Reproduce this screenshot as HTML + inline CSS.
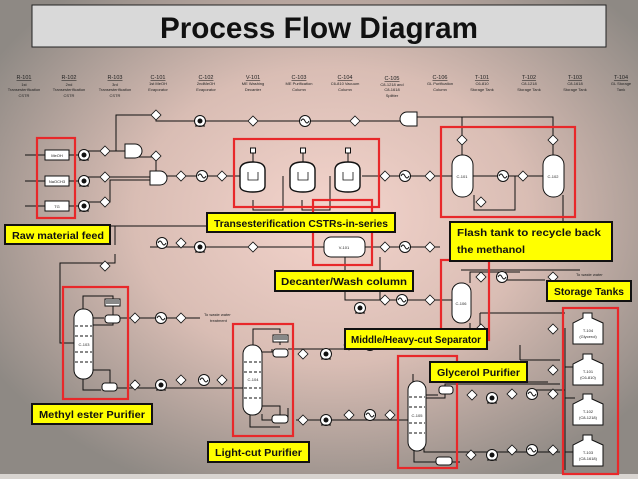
<!DOCTYPE html>
<html><head><meta charset="utf-8"><style>
html,body{margin:0;padding:0;width:638px;height:479px;overflow:hidden}
svg{display:block}
text{font-family:"Liberation Sans",sans-serif}
.s{font-size:4px;fill:#222}
.id{font-size:5.5px;fill:#222;text-decoration:underline}
.y{fill:#ffff00;stroke:#111;stroke-width:2}
.yt{font-size:10.5px;font-weight:bold;fill:#111}
.r{fill:none;stroke:#e8282a;stroke-width:2.2}
.l{fill:none;stroke:#111;stroke-width:1}
.v{fill:#fff;stroke:#111;stroke-width:1}
</style></head><body>
<svg width="638" height="479" viewBox="0 0 638 479" xmlns="http://www.w3.org/2000/svg">
<defs>
<radialGradient id="bg" cx="0.52" cy="0.45" r="0.62">
<stop offset="0" stop-color="#f4d4cc"/><stop offset="0.5" stop-color="#d9bdb4"/><stop offset="1" stop-color="#8e8984"/></radialGradient>
<g id="d"><path d="M0,-5 L5,0 L0,5 L-5,0Z" fill="#fff" stroke="#111" stroke-width="0.8"/></g>
<g id="p"><circle r="5.5" fill="#fff" stroke="#111" stroke-width="1"/><circle r="2.5" fill="#111"/><path d="M-5,5 L5,5" stroke="#111"/></g>
<g id="h"><circle r="5.5" fill="#fff" stroke="#111" stroke-width="1"/><path d="M-4,0 Q-2,-4 0,0 T4,0" fill="none" stroke="#111" stroke-width="0.9"/></g>
<g id="tk"><path d="M10,0 H19 V5 L30,10 V31 H0 V10 L10,5Z" fill="#fff" stroke="#111" stroke-width="1"/></g>
<g id="rx"><rect x="-1.5" y="-28" width="5" height="5" fill="#fff" stroke="#111"/><path d="M1,-23 V-8" stroke="#111"/><path d="M-12,-6 Q-12,-14 1,-14 Q13,-14 13,-6 V10 Q13,16 1,16 Q-12,16 -12,10Z" fill="#fff" stroke="#111" stroke-width="1.4"/><path d="M-4,-4 V4 H6 V-4" fill="none" stroke="#111" stroke-width="0.8"/></g>
</defs>
<rect width="638" height="479" fill="url(#bg)"/>
<rect x="0" y="474" width="638" height="5" fill="#d8d4d0"/>
<rect x="32" y="5" width="574" height="42" fill="#d9d9d9" stroke="#222" stroke-width="1"/>
<text x="319" y="38" text-anchor="middle" font-size="30" font-weight="bold" fill="#111" textLength="318" lengthAdjust="spacingAndGlyphs">Process Flow Diagram</text>

<g text-anchor="middle">
<text class="id" x="24" y="79">R-101</text><text class="s" x="24" y="86">1st</text><text class="s" x="24" y="91">Transesterification</text><text class="s" x="24" y="97">CSTR</text>
<text class="id" x="69" y="79">R-102</text><text class="s" x="69" y="86">2nd</text><text class="s" x="69" y="91">Transesterification</text><text class="s" x="69" y="97">CSTR</text>
<text class="id" x="115" y="79">R-103</text><text class="s" x="115" y="86">3rd</text><text class="s" x="115" y="91">Transesterification</text><text class="s" x="115" y="97">CSTR</text>
<text class="id" x="158" y="79">C-101</text><text class="s" x="158" y="85">1st MeOH</text><text class="s" x="158" y="91">Evaporator</text>
<text class="id" x="206" y="79">C-102</text><text class="s" x="206" y="85">2ndMeOH</text><text class="s" x="206" y="91">Evaporator</text>
<text class="id" x="253" y="79">V-101</text><text class="s" x="253" y="85">ME Washing</text><text class="s" x="253" y="91">Decanter</text>
<text class="id" x="299" y="79">C-103</text><text class="s" x="299" y="85">ME Purification</text><text class="s" x="299" y="91">Column</text>
<text class="id" x="345" y="79">C-104</text><text class="s" x="345" y="85">C6-810 Vacuum</text><text class="s" x="345" y="91">Column</text>
<text class="id" x="392" y="80">C-105</text><text class="s" x="392" y="86">C8-1218 and</text><text class="s" x="392" y="91">C8-1618</text><text class="s" x="392" y="97">Splitter</text>
<text class="id" x="440" y="79">C-106</text><text class="s" x="440" y="85">GL Purification</text><text class="s" x="440" y="91">Column</text>
<text class="id" x="482" y="79">T-101</text><text class="s" x="482" y="85">C6-810</text><text class="s" x="482" y="91">Storage Tank</text>
<text class="id" x="529" y="79">T-102</text><text class="s" x="529" y="85">C8-1218</text><text class="s" x="529" y="91">Storage Tank</text>
<text class="id" x="575" y="79">T-103</text><text class="s" x="575" y="85">C8-1618</text><text class="s" x="575" y="91">Storage Tank</text>
<text class="id" x="621" y="79">T-104</text><text class="s" x="621" y="85">GL Storage</text><text class="s" x="621" y="91">Tank</text>
</g>

<g class="l">
<path d="M25,155 H45 M69,155 H84 M84,151 H125 M116,151 V115 H156 V121 H405"/>
<path d="M25,181 H45 M69,181 H84 M84,177 H150 M156,158 V172 M133,157 L156,157"/>
<path d="M25,206 H45 M69,206 H84 M84,202 H110 V180 H150"/>
<path d="M160,176 H240 M253,200 V210 H283 V176 M302,200 V210 H330 V176 M362,176 H452"/>
<path d="M417,117 H553 V155 M462,117 V155 M474,195 V210 H515 V176 H543 M472,176 H543"/>
<path d="M563,195 V225"/>
<path d="M58,226 H210 M115,226 V245 M115,254 V263 H60 V343 H74"/>
<path d="M150,247 H340 M365,247 H440 M345,257 V300 H452 M380,300 H452 M380,300 V257"/>
<path d="M93,318 H104 M83,309 V296 H113 V299 M113,305 V315 M113,322 V325 H93 M120,318 H200"/>
<path d="M93,370 H110 V383 M101,390 H83 V379 M117,388 H243"/>
<path d="M253,345 V329 H280 V333 M280,339 V345 M272,349 V352 H262 M288,349 H450 M288,408 V420 H262 V414 M250,415 V427 H280 M280,418 V406 H262 M296,420 H410 M411,415 H408"/>
<path d="M470,283 V272 H520 M461,270 H580 M470,323 V330 M461,330 H480 V313 M480,313 H565 M520,360 H560 M520,360 V345"/>
<path d="M471,370 V380 M432,382 H446 M446,382 H548 M530,390 H565 V328 M565,367 H575 M565,398 H575 M565,452 H575 M565,370 V470"/>
<path d="M413,374 V382 H416 M426,395 H438 M426,398 H445 V384 H560 M424,437 V452 H560 M418,450 H415 M414,450 V462 H426 M426,462 H460"/>
<path d="M502,280 H545"/>
</g>

<rect class="r" x="37" y="138" width="38" height="80"/>
<rect class="r" x="234" y="139" width="145" height="68"/>
<rect class="r" x="441" y="127" width="134" height="90"/>
<rect class="r" x="313" y="200" width="59" height="65"/>
<rect class="r" x="441" y="260" width="48" height="80"/>
<rect class="r" x="63" y="287" width="65" height="112"/>
<rect class="r" x="233" y="324" width="60" height="112"/>
<rect class="r" x="398" y="356" width="59" height="112"/>
<rect class="r" x="563" y="308" width="55" height="166"/>

<g>
<rect class="v" x="45" y="150" width="24" height="10"/><text class="s" x="57" y="157" text-anchor="middle">MeOH</text>
<rect class="v" x="45" y="176" width="24" height="10"/><text class="s" x="57" y="183" text-anchor="middle">NaOCH3</text>
<rect class="v" x="45" y="201" width="24" height="10"/><text class="s" x="57" y="208" text-anchor="middle">TG</text>
</g>
<g><use href="#p" x="84" y="155"/><use href="#p" x="84" y="181"/><use href="#p" x="84" y="206"/>
<use href="#d" x="105" y="151"/><use href="#d" x="105" y="177"/><use href="#d" x="105" y="202"/>
<use href="#d" x="156" y="115"/><use href="#d" x="156" y="156"/><use href="#d" x="181" y="176"/><use href="#d" x="222" y="176"/>
<use href="#h" x="202" y="176"/><use href="#p" x="200" y="121"/><use href="#d" x="253" y="121"/><use href="#h" x="305" y="121"/><use href="#d" x="355" y="121"/>
<use href="#d" x="385" y="176"/><use href="#h" x="405" y="176"/><use href="#d" x="430" y="176"/>
<use href="#d" x="462" y="140"/><use href="#d" x="553" y="140"/><use href="#d" x="481" y="202"/><use href="#h" x="503" y="176"/><use href="#d" x="523" y="176"/>
<use href="#h" x="162" y="243"/><use href="#d" x="181" y="243"/><use href="#p" x="200" y="247"/><use href="#d" x="253" y="247"/>
<use href="#d" x="385" y="247"/><use href="#h" x="405" y="247"/><use href="#d" x="430" y="247"/>
<use href="#d" x="105" y="266"/>
<use href="#d" x="135" y="318"/><use href="#h" x="161" y="318"/><use href="#d" x="181" y="318"/>
<use href="#d" x="135" y="385"/><use href="#p" x="161" y="385"/><use href="#d" x="181" y="380"/><use href="#h" x="204" y="380"/><use href="#d" x="222" y="380"/>
<use href="#d" x="303" y="354"/><use href="#p" x="326" y="354"/><use href="#d" x="349" y="345"/><use href="#h" x="370" y="345"/>
<use href="#d" x="303" y="420"/><use href="#p" x="326" y="420"/><use href="#d" x="349" y="415"/><use href="#h" x="370" y="415"/><use href="#d" x="390" y="415"/>
<use href="#p" x="360" y="308"/><use href="#d" x="385" y="300"/><use href="#h" x="402" y="300"/><use href="#d" x="430" y="300"/>
<use href="#d" x="481" y="277"/><use href="#h" x="502" y="277"/><use href="#d" x="553" y="277"/>
<use href="#d" x="481" y="329"/><use href="#d" x="553" y="329"/>
<use href="#d" x="553" y="370"/><use href="#d" x="472" y="395"/><use href="#p" x="492" y="398"/><use href="#d" x="512" y="394"/><use href="#h" x="532" y="394"/><use href="#d" x="553" y="394"/>
<use href="#d" x="471" y="455"/><use href="#p" x="492" y="455"/><use href="#d" x="512" y="450"/><use href="#h" x="532" y="450"/><use href="#d" x="553" y="450"/>
</g>
<path d="M125,144 H135 A6,6 0 0 1 135,158 H125Z" class="v"/>
<path d="M150,171 H160 A6,6 0 0 1 160,185 H150Z" class="v"/>
<path d="M417,112 H407 A6,6 0 0 0 407,126 H417Z" class="v"/>
<use href="#rx" x="252" y="176"/><use href="#rx" x="302" y="176"/><use href="#rx" x="347" y="176"/>
<rect class="v" x="452" y="155" width="21" height="42" rx="10"/><text class="s" x="462" y="178" text-anchor="middle">C-101</text>
<rect class="v" x="543" y="155" width="21" height="42" rx="10"/><text class="s" x="553" y="178" text-anchor="middle">C-102</text>
<rect class="v" x="324" y="237" width="41" height="20" rx="7"/><text class="s" x="344" y="249" text-anchor="middle">V-101</text>
<g>
<rect class="v" x="74" y="309" width="19" height="70" rx="9"/>
<path d="M75,326 H92 M75,336 H92 M75,352 H92 M75,362 H92" stroke="#111" stroke-dasharray="3,2"/>
<text class="s" x="84" y="346" text-anchor="middle">C-103</text>
<rect x="105" y="299" width="15" height="7" fill="#fff" stroke="#111"/><path d="M106,301 H119 M106,303 H119" stroke="#111"/>
<rect class="v" x="105" y="315" width="15" height="8" rx="3"/>
<rect class="v" x="102" y="383" width="15" height="8" rx="3"/>
</g>
<g>
<rect class="v" x="243" y="345" width="19" height="70" rx="9"/>
<path d="M244,362 H261 M244,372 H261 M244,388 H261 M244,398 H261" stroke="#111" stroke-dasharray="3,2"/>
<text class="s" x="253" y="381" text-anchor="middle">C-104</text>
<rect x="273" y="335" width="15" height="7" fill="#fff" stroke="#111"/><path d="M274,337 H287 M274,339 H287" stroke="#111"/>
<rect class="v" x="273" y="349" width="15" height="8" rx="3"/>
<rect class="v" x="272" y="415" width="16" height="8" rx="3"/>
</g>
<g>
<rect class="v" x="408" y="381" width="18" height="70" rx="9"/>
<path d="M409,397 H425 M409,407 H425 M409,423 H425 M409,433 H425" stroke="#111" stroke-dasharray="3,2"/>
<text class="s" x="417" y="417" text-anchor="middle">C-105</text>
<rect class="v" x="439" y="386" width="14" height="8" rx="3"/>
<rect class="v" x="436" y="457" width="16" height="8" rx="3"/>
</g>
<rect class="v" x="452" y="283" width="19" height="40" rx="9"/><text class="s" x="461" y="305" text-anchor="middle">C-106</text>
<use href="#tk" x="573" y="313"/><use href="#tk" x="573" y="354"/><use href="#tk" x="573" y="394"/><use href="#tk" x="573" y="435"/>
<g text-anchor="middle"><text class="s" x="588" y="332">T-104</text><text class="s" x="588" y="338">(Glycerol)</text>
<text class="s" x="588" y="373">T-101</text><text class="s" x="588" y="379">(C6-810)</text>
<text class="s" x="588" y="413">T-102</text><text class="s" x="588" y="419">(C8-1218)</text>
<text class="s" x="588" y="454">T-103</text><text class="s" x="588" y="460">(C8-1618)</text></g>
<text class="s" x="204" y="316">To waste water</text><text class="s" x="210" y="322">treatment</text>
<text class="s" x="576" y="276">To waste water</text>

<rect class="y" x="5" y="225" width="105" height="19"/><text class="yt" x="12" y="239" textLength="92" lengthAdjust="spacingAndGlyphs">Raw material feed</text>
<rect class="y" x="207" y="213" width="188" height="19"/><text class="yt" x="214" y="227" textLength="174" lengthAdjust="spacingAndGlyphs">Transesterification CSTRs-in-series</text>
<rect class="y" x="450" y="222" width="162" height="39"/><text class="yt" x="457" y="236" textLength="144" lengthAdjust="spacingAndGlyphs">Flash tank to recycle back</text><text class="yt" x="457" y="253" textLength="68" lengthAdjust="spacingAndGlyphs">the methanol</text>
<rect class="y" x="275" y="271" width="138" height="20"/><text class="yt" x="281" y="285" textLength="126" lengthAdjust="spacingAndGlyphs">Decanter/Wash column</text>
<rect class="y" x="547" y="281" width="84" height="20"/><text class="yt" x="554" y="295" textLength="70" lengthAdjust="spacingAndGlyphs">Storage Tanks</text>
<rect class="y" x="345" y="329" width="142" height="20"/><text class="yt" x="351" y="343" textLength="130" lengthAdjust="spacingAndGlyphs">Middle/Heavy-cut Separator</text>
<rect class="y" x="430" y="362" width="97" height="20"/><text class="yt" x="437" y="376" textLength="83" lengthAdjust="spacingAndGlyphs">Glycerol Purifier</text>
<rect class="y" x="32" y="404" width="120" height="20"/><text class="yt" x="39" y="418" textLength="106" lengthAdjust="spacingAndGlyphs">Methyl ester Purifier</text>
<rect class="y" x="208" y="442" width="101" height="20"/><text class="yt" x="215" y="456" textLength="87" lengthAdjust="spacingAndGlyphs">Light-cut Purifier</text>
</svg>
</body></html>
